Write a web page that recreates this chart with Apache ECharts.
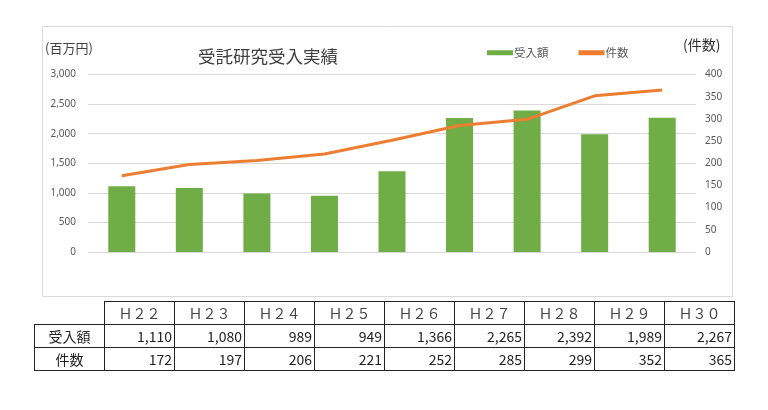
<!DOCTYPE html>
<html>
<head>
<meta charset="utf-8">
<script src="https://cdn.jsdelivr.net/npm/echarts@6/dist/echarts.min.js"></script>
<style>
  html, body { margin: 0; padding: 0; background: #fff; }
  #main { position: absolute; left: 0; top: 0; width: 768px; height: 410px; }
  #tbl {
    position: absolute; left: 34px; top: 301px; width: 700px;
    border-collapse: collapse; table-layout: fixed;
    font-family: "Noto Sans CJK JP", sans-serif; font-size: 14px; color: #222;
  }
  #tbl col { width: 70px; }
  #tbl td {
    border: 1.5px solid #222; height: 22px; padding: 0 2px;
    line-height: 22px; text-align: right; white-space: nowrap; overflow: hidden;
  }
  #tbl tr:first-child td { text-align: center; color: #444; }
  #tbl td:first-child { text-align: center; }
  #tbl tr:first-child td:first-child { border-top: none; border-left: none; }
</style>
</head>
<body>
<div id="main"></div>
<table id="tbl"></table>
<script>
const years = ['Ｈ２２', 'Ｈ２３', 'Ｈ２４', 'Ｈ２５', 'Ｈ２６', 'Ｈ２７', 'Ｈ２８', 'Ｈ２９', 'Ｈ３０'];
const amount = [1110, 1080, 989, 949, 1366, 2265, 2392, 1989, 2267];
const count = [172, 197, 206, 221, 252, 285, 299, 352, 365];

// table below the chart
const fmt = v => v.toLocaleString('en-US');
let html = '<colgroup>' + '<col>'.repeat(years.length + 1) + '</colgroup>';
html += '<tr><td></td>' + years.map(y => '<td>' + y + '</td>').join('') + '</tr>';
html += '<tr><td>受入額</td>' + amount.map(v => '<td>' + fmt(v) + '</td>').join('') + '</tr>';
html += '<tr><td>件数</td>' + count.map(v => '<td>' + fmt(v) + '</td>').join('') + '</tr>';
document.getElementById('tbl').innerHTML = html;

const chart = echarts.init(document.getElementById('main'));
const font = '"Noto Sans CJK JP", sans-serif';
const option = {
  backgroundColor: '#fff',
  animation: false,
  textStyle: { fontFamily: font },
  title: {
    text: '受託研究受入実績',
    left: 193, top: 43,
    textStyle: { fontSize: 17.5, fontWeight: 'normal', color: '#404040', fontFamily: font }
  },
  legend: {
    left: 482, top: 42,
    itemWidth: 26, itemHeight: 5, itemGap: 30,
    textStyle: { fontSize: 11.5, color: '#595959', padding: [0, 0, 0, -4] },
    data: [{ name: '受入額', icon: 'rect' }, { name: '件数', icon: 'rect' }]
  },
  graphic: [
    {
      type: 'rect', left: 42, top: 26, z: -1,
      shape: { width: 690, height: 270 },
      style: { fill: '#fff', stroke: '#d9d9d9', lineWidth: 1 }
    },
    {
      type: 'text', left: 45, top: 42,
      style: { text: '(百万円)', fontSize: 13, fill: '#404040', fontFamily: font }
    },
    {
      type: 'text', left: 683, top: 38,
      style: { text: '(件数)', fontSize: 14, fill: '#303030', fontFamily: font }
    }
  ],
  grid: { left: 88, right: 72, top: 74.5, bottom: 158 },
  xAxis: {
    type: 'category', data: years,
    axisLine: { show: false }, axisTick: { show: false }, axisLabel: { show: false }
  },
  yAxis: [
    {
      type: 'value', min: 0, max: 3000, interval: 500,
      axisLine: { show: false }, axisTick: { show: false },
      axisLabel: { color: '#595959', fontSize: 10, margin: 12, fontFamily: 'Noto Sans',
        formatter: v => fmt(v) },
      splitLine: { lineStyle: { color: '#d9d9d9' } }
    },
    {
      type: 'value', min: 0, max: 400, interval: 50,
      axisLine: { show: false }, axisTick: { show: false },
      axisLabel: { color: '#595959', fontSize: 10, margin: 9, fontFamily: 'Noto Sans' },
      splitLine: { show: false }
    }
  ],
  series: [
    {
      name: '受入額', type: 'bar', data: amount, barWidth: '40%',
      itemStyle: { color: '#70AD47' }
    },
    {
      name: '件数', type: 'line', yAxisIndex: 1, data: count,
      symbol: 'none', lineStyle: { color: '#ED7D31', width: 3 },
      itemStyle: { color: '#ED7D31' }
    }
  ]
};
chart.setOption(option);
</script>
</body>
</html>
